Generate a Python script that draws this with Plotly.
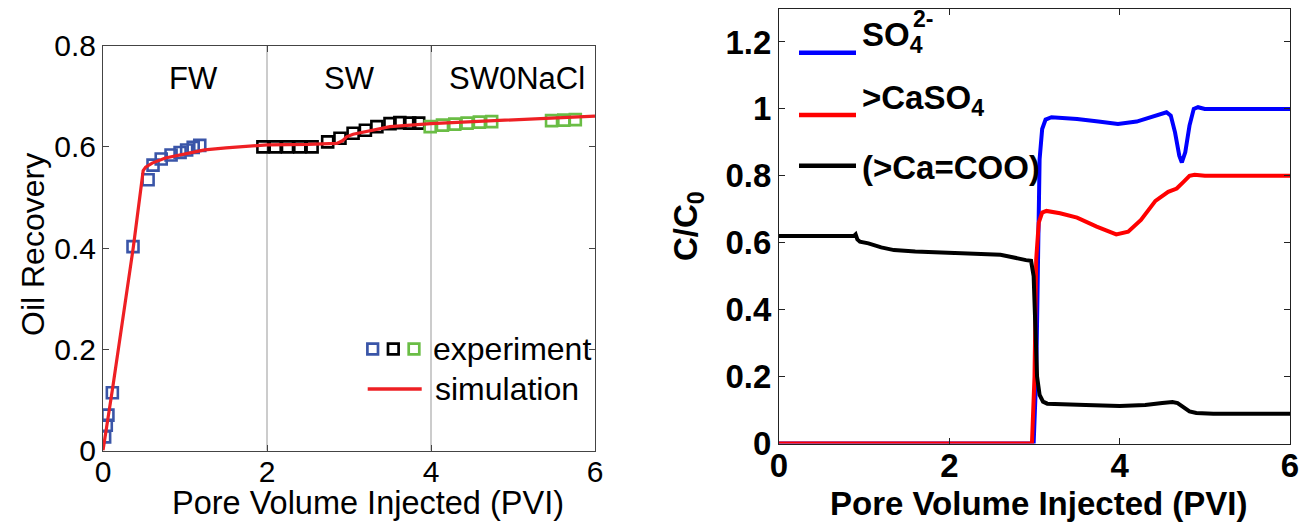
import plotly.graph_objects as go

W, H = 1312, 527

# ---------------- left panel: oil recovery ----------------
exp_fw_pvi = [0.02, 0.04, 0.06, 0.114, 0.366, 0.55, 0.61, 0.71, 0.83, 0.94, 1.02, 1.10, 1.18]
exp_fw_rec = [0.027, 0.050, 0.070, 0.114, 0.403, 0.535, 0.564, 0.576, 0.584, 0.589, 0.594, 0.599, 0.603]

exp_sw_pvi = [1.95, 2.10, 2.25, 2.40, 2.55, 2.74, 2.89, 3.05, 3.20, 3.34, 3.50, 3.62, 3.74, 3.85]
exp_sw_rec = [0.600, 0.600, 0.600, 0.600, 0.600, 0.610, 0.617, 0.627, 0.633, 0.640, 0.646, 0.648, 0.647, 0.647]

exp_sw0_pvi = [3.99, 4.14, 4.29, 4.44, 4.59, 4.74, 5.47, 5.62, 5.76]
exp_sw0_rec = [0.640, 0.643, 0.645, 0.647, 0.649, 0.650, 0.652, 0.653, 0.654]

sim_pvi = [0, 0.12, 0.37, 0.49, 0.52, 0.60, 0.76, 1.06, 1.24, 1.5, 2.0, 2.5, 2.85, 2.92, 2.97, 3.05,
           3.22, 3.5, 4.0, 4.82, 5.4, 6.0]
sim_rec = [0, 0.126, 0.402, 0.553, 0.560, 0.568, 0.578, 0.587, 0.594, 0.598, 0.604, 0.605, 0.607, 0.612,
           0.620, 0.625, 0.631, 0.640, 0.646, 0.652, 0.656, 0.661]

phase_boundaries = [2, 4]
phase_labels = ["FW", "SW", "SW0NaCl"]
phase_label_x = [1.1, 3.0, 5.05]
phase_label_y = 0.735

left_xticks = [0, 2, 4, 6]
left_yticks = [0, 0.2, 0.4, 0.6, 0.8]

# ---------------- right panel: concentrations ----------------
so4_pvi = [0, 2.99, 3.02, 3.04, 3.06, 3.09, 3.13, 3.2, 3.5, 3.75, 3.98, 4.2, 4.4, 4.55, 4.6, 4.65, 4.7,
           4.73, 4.77, 4.82, 4.87, 4.92, 5.0, 6.0]
so4_c = [0, 0, 0.2, 0.6, 0.85, 0.94, 0.968, 0.975, 0.97, 0.962, 0.955, 0.962, 0.978, 0.99, 0.98, 0.93,
         0.86, 0.84, 0.87, 0.95, 1.0, 1.005, 1.0, 1.0]

caso4_pvi = [0, 2.97, 3.0, 3.02, 3.05, 3.09, 3.14, 3.3, 3.5, 3.73, 3.96, 4.1, 4.25, 4.42, 4.57, 4.67,
             4.75, 4.82, 4.88, 5.0, 6.0]
caso4_c = [0, 0, 0.2, 0.55, 0.66, 0.69, 0.695, 0.688, 0.675, 0.648, 0.625, 0.633, 0.668, 0.725, 0.752,
           0.762, 0.782, 0.80, 0.803, 0.80, 0.80]

cacoo_pvi = [0, 0.88, 0.90, 0.92, 0.95, 1.05, 1.2, 1.35, 1.6, 2.0, 2.4, 2.6, 2.7, 2.8, 2.9, 2.96, 2.99,
             3.01, 3.03, 3.06, 3.10, 3.15, 3.3, 3.6, 4.0, 4.3, 4.5, 4.62, 4.68, 4.75, 4.82, 4.9, 5.1, 6.0]
cacoo_c = [0.62, 0.62, 0.625, 0.61, 0.603, 0.598, 0.586, 0.578, 0.574, 0.570, 0.566, 0.564, 0.559, 0.552,
           0.548, 0.546, 0.50, 0.35, 0.20, 0.145, 0.125, 0.119, 0.117, 0.115, 0.112, 0.115, 0.121, 0.124,
           0.121, 0.108, 0.096, 0.091, 0.089, 0.089]

right_xticks = [0, 2, 4, 6]
right_yticks = [0, 0.2, 0.4, 0.6, 0.8, 1.0, 1.2]

# colours
C_BLUE_EXP = "#3a55a8"
C_BLACK = "#000000"
C_GREEN = "#6abd45"
C_RED_SIM = "#ee2024"

FONT = "Liberation Sans, Arial, sans-serif"

fig = go.Figure()

# ---- left traces ----
for xs, ys, col in [(exp_fw_pvi, exp_fw_rec, C_BLUE_EXP), (exp_sw_pvi, exp_sw_rec, C_BLACK),
                    (exp_sw0_pvi, exp_sw0_rec, C_GREEN)]:
    fig.add_trace(go.Scatter(x=xs, y=ys, mode="markers",
                             marker=dict(symbol="square-open", size=11, color=col,
                                         line=dict(width=2.6, color=col)),
                             xaxis="x", yaxis="y", showlegend=False))
fig.add_trace(go.Scatter(x=sim_pvi, y=sim_rec, mode="lines", line=dict(color=C_RED_SIM, width=3.2),
                         xaxis="x", yaxis="y", showlegend=False))

# ---- right traces ----
fig.add_trace(go.Scatter(x=so4_pvi, y=so4_c, mode="lines", line=dict(color="#0000ff", width=4),
                         xaxis="x2", yaxis="y2", showlegend=False))
fig.add_trace(go.Scatter(x=caso4_pvi, y=caso4_c, mode="lines", line=dict(color="#ff0000", width=4),
                         xaxis="x2", yaxis="y2", showlegend=False))
fig.add_trace(go.Scatter(x=cacoo_pvi, y=cacoo_c, mode="lines", line=dict(color="#000000", width=4),
                         xaxis="x2", yaxis="y2", showlegend=False))

shapes = []
# phase separators in left panel
for xb in phase_boundaries:
    shapes.append(dict(type="line", xref="x", yref="y domain", x0=xb, x1=xb, y0=0, y1=1,
                       line=dict(color="#aaaaaa", width=1.2), layer="below"))


def px(x):
    return x / W


def py(y):
    return 1 - y / H


# left custom legend: three squares + red line
for cx, col in [(372.7, C_BLUE_EXP), (393.3, C_BLACK), (414.0, C_GREEN)]:
    shapes.append(dict(type="rect", xref="paper", yref="paper",
                       x0=px(cx - 5.3), x1=px(cx + 5.3), y0=py(349 + 5.3), y1=py(349 - 5.3),
                       line=dict(color=col, width=2.7), fillcolor="rgba(0,0,0,0)"))
shapes.append(dict(type="line", xref="paper", yref="paper", x0=px(367.7), x1=px(421.7),
                   y0=py(389), y1=py(389), line=dict(color=C_RED_SIM, width=3.3)))

# right custom legend line samples
for yy, col in [(52.7, "#0000ff"), (115, "#ff0000"), (165.7, "#000000")]:
    shapes.append(dict(type="line", xref="paper", yref="paper", x0=px(799), x1=px(856),
                       y0=py(yy), y1=py(yy), line=dict(color=col, width=4.5)))

annotations = []
# phase labels
for lab, lx in zip(phase_labels, phase_label_x):
    annotations.append(dict(text=lab, x=lx, y=phase_label_y, xref="x", yref="y", showarrow=False,
                            font=dict(family=FONT, size=31, color="black"), xanchor="center",
                            yanchor="middle"))
# left legend texts
annotations.append(dict(text="experiment", x=px(431), y=py(349), xref="paper", yref="paper",
                        showarrow=False, xanchor="left", yanchor="middle",
                        font=dict(family=FONT, size=32, color="black")))
annotations.append(dict(text="simulation", x=px(433), y=py(389), xref="paper", yref="paper",
                        showarrow=False, xanchor="left", yanchor="middle",
                        font=dict(family=FONT, size=32, color="black")))
# left axis titles
annotations.append(dict(text="Pore Volume Injected (PVI)", x=px(368), y=py(503), xref="paper",
                        yref="paper", showarrow=False, xanchor="center", yanchor="middle",
                        font=dict(family=FONT, size=32.5, color="black")))
annotations.append(dict(text="Oil Recovery", x=px(33), y=py(245), xref="paper", yref="paper",
                        showarrow=False, xanchor="center", yanchor="middle", textangle=-90,
                        font=dict(family=FONT, size=32, color="black")))
# right legend texts
BF = dict(family=FONT, size=33, color="black", weight="bold")
annotations.append(dict(text="SO<sub>4</sub>", x=px(860), y=py(37), xref="paper", yref="paper",
                        showarrow=False, xanchor="left", yanchor="middle", font=BF))
annotations.append(dict(text="2-", x=px(911), y=py(19), xref="paper", yref="paper",
                        showarrow=False, xanchor="left", yanchor="middle",
                        font=dict(family=FONT, size=23, color="black", weight="bold")))
annotations.append(dict(text="&gt;CaSO<sub>4</sub>", x=px(860), y=py(100), xref="paper", yref="paper",
                        showarrow=False, xanchor="left", yanchor="middle", font=BF))
annotations.append(dict(text="(&gt;Ca=COO)", x=px(860), y=py(167), xref="paper", yref="paper",
                        showarrow=False, xanchor="left", yanchor="middle", font=BF))
# right axis titles
annotations.append(dict(text="Pore Volume Injected (PVI)", x=px(1038), y=py(503), xref="paper",
                        yref="paper", showarrow=False, xanchor="center", yanchor="middle", font=BF))
annotations.append(dict(text="C/C<sub>0</sub>", x=px(688), y=py(226), xref="paper", yref="paper",
                        showarrow=False, xanchor="center", yanchor="middle", textangle=-90, font=BF))

axis_common = dict(showgrid=False, zeroline=False, showline=True, mirror="ticks", ticks="inside",
                   ticklen=6, tickwidth=1, automargin=False)

fig.update_layout(
    template="none",
    width=W, height=H,
    margin=dict(l=0, r=0, t=0, b=0, pad=0),
    paper_bgcolor="white", plot_bgcolor="white",
    showlegend=False,
    xaxis=dict(domain=[103 / W, 595 / W], range=[0, 6], tickvals=left_xticks, anchor="y",
               linecolor="#444444", tickcolor="#444444", ticklabelstandoff=-6,
               tickfont=dict(family=FONT, size=30, color="black"), **axis_common),
    yaxis=dict(domain=[1 - 450.5 / H, 1 - 45.7 / H], range=[0, 0.8], tickvals=left_yticks, anchor="x",
               linecolor="#444444", tickcolor="#444444",
               tickfont=dict(family=FONT, size=30, color="black"), **axis_common),
    xaxis2=dict(domain=[779 / W, 1290 / W], range=[0, 6], tickvals=right_xticks, anchor="y2",
                linecolor="#222222", tickcolor="#222222", ticklabelstandoff=-7,
                tickfont=dict(family=FONT, size=33, color="black", weight="bold"), **axis_common),
    yaxis2=dict(domain=[1 - 443.5 / H, 1 - 8.5 / H], range=[0, 1.3], tickvals=right_yticks, anchor="x2",
                linecolor="#222222", tickcolor="#222222",
                tickfont=dict(family=FONT, size=33, color="black", weight="bold"), **axis_common),
    shapes=shapes,
    annotations=annotations,
)

fig.write_html("out.html", config={"displayModeBar": False},
               post_script="document.body.style.margin='0px';"
                           "document.body.style.overflow='hidden';")
